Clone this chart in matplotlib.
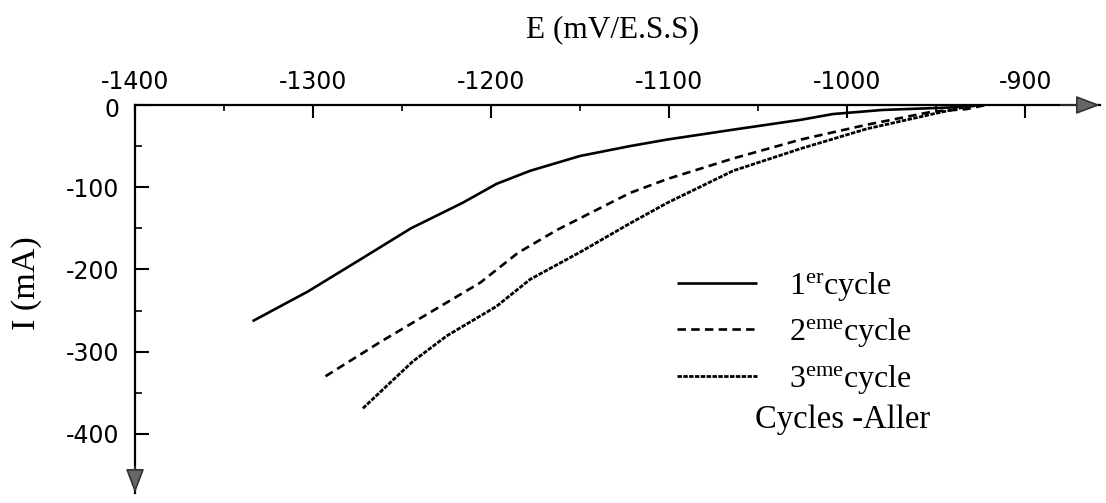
import matplotlib
matplotlib.use('Agg')
import matplotlib.pyplot as plt
from matplotlib.ticker import FixedLocator

plt.rcParams['mathtext.fontset'] = 'custom'
plt.rcParams['mathtext.rm'] = 'Liberation Serif'
plt.rcParams['mathtext.it'] = 'Liberation Serif:italic'

# ---- data ----
E1 = [-1334, -1303, -1272, -1245, -1216, -1197, -1178, -1150, -1122, -1101, -1064, -1026, -1008, -980, -942, -920]
I1 = [-263, -227, -186, -150, -119, -96, -80, -62, -50, -42, -30, -18, -11, -6, -3, 1]

E2 = [-1293, -1262, -1234, -1206, -1185, -1163, -1122, -1101, -1064, -1026, -989, -952, -933, -920]
I2 = [-330, -288, -252, -216, -180, -152, -107, -90, -65, -42, -24, -8, -5, 1]

E3 = [-1272, -1244, -1225, -1197, -1178, -1150, -1122, -1101, -1064, -1026, -989, -952, -933, -920]
I3 = [-369, -312, -281, -245, -212, -179, -144, -119, -80, -53, -29, -11, -2, 1]

series_labels = [r'1$^{\mathrm{er}}$cycle', r'2$^{\mathrm{eme}}$cycle', r'3$^{\mathrm{eme}}$cycle']

xticks = [-1400, -1300, -1200, -1100, -1000, -900]
xticklabels = ['-1400', '-1300', '-1200', '-1100', '-1000', '-900']
xminor = [-1350, -1250, -1150, -1050, -950]
yticks = [-400, -300, -200, -100, 0]
yticklabels = ['-400', '-300', '-200', '-100', '']
yminor = [-350, -250, -150, -50]

xlabel = 'E (mV/E.S.S)'
ylabel = 'I (mA)'
note = 'Cycles -Aller'

# ---- figure ----
W, H = 1106, 503
fig = plt.figure(figsize=(W / 100, H / 100), dpi=100)
ax = fig.add_axes([135 / W, 10 / H, 965 / W, 388 / H])
ax.set_xlim(-1400, -858)
ax.set_ylim(-472, 0)

for s in ['right', 'bottom']:
    ax.spines[s].set_visible(False)
for s in ['top', 'left']:
    ax.spines[s].set_linewidth(1.6)
    ax.spines[s].set_color('black')

ax.xaxis.tick_top()
ax.set_xticks(xticks)
ax.set_xticklabels(xticklabels)
ax.xaxis.set_minor_locator(FixedLocator(xminor))
ax.tick_params(axis='x', which='major', direction='in', length=9, width=1.5, pad=8, labelsize=17)
ax.tick_params(axis='x', which='minor', direction='in', length=4, width=1.2)

ax.set_yticks(yticks)
ax.set_yticklabels(yticklabels)
ax.yaxis.set_minor_locator(FixedLocator(yminor))
ax.tick_params(axis='y', which='major', direction='in', length=10, width=1.5, pad=11, labelsize=17)
ax.tick_params(axis='y', which='minor', direction='in', length=5, width=1.2)

ax.annotate('0', xy=(-1400, 0), xytext=(-16, -5), textcoords='offset pixels',
            ha='right', va='center', fontsize=17, annotation_clip=False)

l1, = ax.plot(E1, I1, color='black', lw=1.9, solid_capstyle='butt', label=series_labels[0])
l2, = ax.plot(E2, I2, color='black', lw=1.9, dashes=(3.2, 2.0), label=series_labels[1])
l3, = ax.plot(E3, I3, color='black', lw=2.0, dashes=(1.6, 0.5), label=series_labels[2])

# arrow heads
ap = dict(arrowstyle='-|>,head_length=1.0,head_width=0.38', mutation_scale=15,
          facecolor='#666666', edgecolor='#333333', lw=1.2, shrinkA=0, shrinkB=0)
ax.annotate('', xy=(-858, 0), xytext=(-880, 0), arrowprops=ap, annotation_clip=False)
ax.annotate('', xy=(-1400, -472), xytext=(-1400, -440), arrowprops=ap, annotation_clip=False)

fig.text(613 / W, 1 - 30 / H, xlabel, family='Liberation Serif', size=22.5, ha='center', va='center')
fig.text(27 / W, 1 - 283 / H, ylabel, family='Liberation Serif', size=24.5, rotation=90,
         ha='center', va='center')

leg = ax.legend(handles=[l1, l2, l3], loc='upper left', bbox_to_anchor=(677 / W, 1 - 270 / H),
                bbox_transform=fig.transFigure, frameon=False, borderpad=0, borderaxespad=0,
                handlelength=2.5, handletextpad=1.0, labelspacing=0.42,
                prop={'family': 'Liberation Serif', 'size': 23})

fig.text(755 / W, 1 - 420 / H, note, family='Liberation Serif', size=23.5, ha='left', va='center')

fig.savefig('out.png', dpi=100)
